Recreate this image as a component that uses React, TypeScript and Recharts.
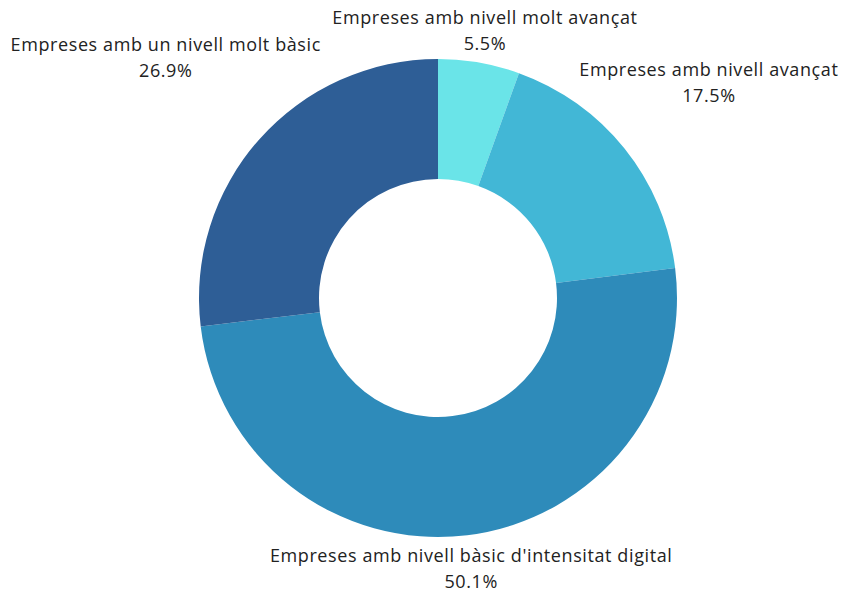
import { PieChart, Pie, Cell } from "recharts";

const categories = [
  "Empreses amb nivell molt avançat",
  "Empreses amb nivell avançat",
  "Empreses amb nivell bàsic d'intensitat digital",
  "Empreses amb un nivell molt bàsic",
];
const shares = [5.5, 17.5, 50.1, 26.9];
const colors = ["#6ae4e8", "#42b7d6", "#2e8bba", "#2e5e96"];

const data = categories.map((name, i) => ({ name, value: shares[i] }));

const FONT = "'Open Sans', sans-serif";
const FONT_SIZE = 18;
const SPACING = 0.6;
const LINE = 26;
const RAD = Math.PI / 180;

let ctx: CanvasRenderingContext2D | null = null;
function textWidth(s: string) {
  if (!ctx) ctx = document.createElement("canvas").getContext("2d");
  if (!ctx) return s.length * (FONT_SIZE * 0.55 + SPACING);
  ctx.font = `${FONT_SIZE}px 'Open Sans'`;
  return ctx.measureText(s).width + s.length * SPACING;
}

// label box pushed out along the slice's mid angle until it clears the ring
function renderLabel(props: any) {
  const { cx, cy, midAngle, outerRadius, name, value } = props;
  const pct = `${value.toFixed(1)}%`;
  const hw = (Math.max(textWidth(name), textWidth(pct)) / 2) * 1.08;
  const hh = 19;
  const c = Math.cos(-midAngle * RAD);
  const s = Math.sin(-midAngle * RAD);
  const r = outerRadius - 13 + hw * Math.abs(c) + hh * Math.abs(s);
  const x = cx + r * c;
  const y = cy + r * s + 2;
  return (
    <text
      x={x}
      y={y}
      textAnchor="middle"
      fill="#222"
      fontFamily={FONT}
      fontSize={FONT_SIZE}
      letterSpacing={SPACING}
    >
      <tspan x={x} dy={-LINE / 2 + 6}>
        {name}
      </tspan>
      <tspan x={x} dy={LINE}>
        {pct}
      </tspan>
    </text>
  );
}

export default function App() {
  return (
    <div style={{ width: 839, height: 586, background: "#fff" }}>
      <PieChart width={839} height={586} margin={{ top: 0, right: 0, bottom: 0, left: 0 }}>
        <Pie
          data={data}
          dataKey="value"
          nameKey="name"
          cx={430}
          cy={290}
          innerRadius={119}
          outerRadius={239}
          startAngle={90}
          endAngle={-270}
          stroke="none"
          labelLine={false}
          label={renderLabel}
          isAnimationActive={false}
        >
          {data.map((d, i) => (
            <Cell key={d.name} fill={colors[i]} />
          ))}
        </Pie>
      </PieChart>
    </div>
  );
}
